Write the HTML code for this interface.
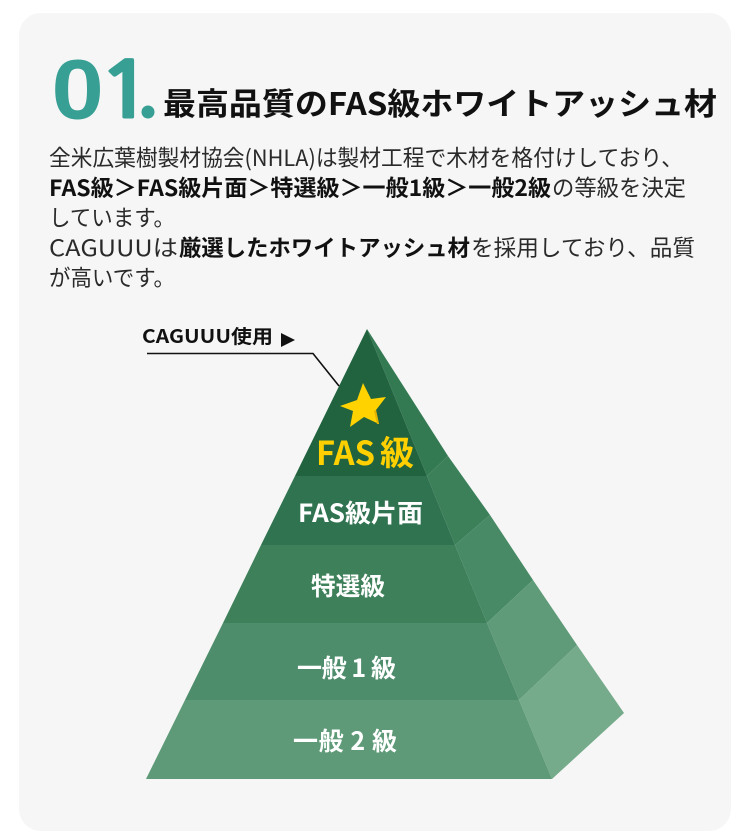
<!DOCTYPE html>
<html lang="ja"><head><meta charset="utf-8"><style>
html,body{margin:0;padding:0;background:#fff;width:750px;height:838px;overflow:hidden}
svg{display:block}
text{font-family:"Noto Sans CJK JP","Liberation Sans",sans-serif}
.n{font-family:"Liberation Sans",sans-serif;font-size:84px;font-weight:700;fill:#379f94}
.b{font-size:22.5px;fill:#2a2a2a;font-weight:400}
.s{font-weight:700;fill:#111}
.l{font-weight:700;fill:#fff;text-anchor:start}
</style></head><body>
<svg width="750" height="838" viewBox="0 0 750 838" xmlns="http://www.w3.org/2000/svg">
<rect x="19" y="13" width="712" height="818" rx="22" fill="#f6f6f6"/>
<text class="n" transform="translate(51.5 118.5) scale(1.12 1)" x="0" y="0">0</text>
<text class="n" style="font-family:NanumGothic,'Liberation Sans',sans-serif;font-size:78px" transform="translate(96.5 118) scale(1.25 1)" stroke="#379f94" stroke-width="1" x="0" y="0">1</text>
<circle cx="148" cy="112" r="6.5" fill="#379f94"/>
<text x="163" y="115" font-size="31" font-weight="700" fill="#111" textLength="554" lengthAdjust="spacingAndGlyphs">最高品質のFAS級ホワイトアッシュ材</text>

<text class="b" x="49" y="166" textLength="634" lengthAdjust="spacingAndGlyphs">全米広葉樹製材協会(NHLA)は製材工程で木材を格付けしており、</text>
<text class="b s" x="49" y="196" textLength="502" lengthAdjust="spacingAndGlyphs">FAS級＞FAS級片面＞特選級＞一般1級＞一般2級</text>
<text class="b" x="552" y="196" textLength="134" lengthAdjust="spacingAndGlyphs">の等級を決定</text>
<text class="b" x="49" y="226" textLength="126" lengthAdjust="spacingAndGlyphs">しています。</text>
<text class="b" x="49" y="256" textLength="129" lengthAdjust="spacingAndGlyphs">CAGUUUは</text>
<text class="b s" x="179" y="256" textLength="291" lengthAdjust="spacingAndGlyphs">厳選したホワイトアッシュ材</text>
<text class="b" x="471" y="256" textLength="224" lengthAdjust="spacingAndGlyphs">を採用しており、品質</text>
<text class="b" x="49" y="286" textLength="126" lengthAdjust="spacingAndGlyphs">が高いです。</text>

<!-- side faces -->
<polygon points="367,329 448,456 427,476" fill="#337a53"/>
<polygon points="448,456 490,515 455,545 427,476" fill="#3b8059"/>
<polygon points="490,515 533,580 487,623 455,545" fill="#478a65"/>
<polygon points="533,580 577,645 519,700 487,623" fill="#5f9b79"/>
<polygon points="577,645 624,713 552,779 519,700" fill="#75ab8b"/>
<!-- front faces -->
<polygon points="367,329 427,476 295,476" fill="#21633f"/>
<polygon points="295,476 427,476 455,545 261,545" fill="#307350"/>
<polygon points="261,545 455,545 487,623 223,623" fill="#3d8059"/>
<polygon points="223,623 487,623 519,700 185,700" fill="#4e8d6b"/>
<polygon points="185,700 519,700 552,779 146,779" fill="#5e9a78"/>

<polyline points="147,353.5 313,353.5 339,386" fill="none" stroke="#111" stroke-width="1.6"/>
<text x="142" y="343" font-size="19" font-weight="700" fill="#111" textLength="131" lengthAdjust="spacingAndGlyphs">CAGUUU使用</text>
<polygon points="281,333 295,340 281,347" fill="#111"/>

<polygon points="363,383 371,399 386,397 376,410 379,424 364,417 350,427 353,411 340,406 357,400" fill="#ffd200"/>
<polygon points="376,410 379,424 377,424 374,411" fill="#e2b400"/>

<text class="l" x="316" y="465" font-size="33" style="fill:#ffd000" textLength="59" lengthAdjust="spacingAndGlyphs">FAS</text>
<text class="l" x="380" y="465" font-size="34" style="fill:#ffd000">級</text>
<text class="l" x="298" y="522" font-size="25" textLength="125" lengthAdjust="spacingAndGlyphs">FAS級片面</text>
<text class="l" x="311" y="595" font-size="25" textLength="74" lengthAdjust="spacingAndGlyphs">特選級</text>
<text class="l" x="297" y="677" font-size="25" textLength="99" lengthAdjust="spacing">一般 1 級</text>
<text class="l" x="293" y="750" font-size="25" textLength="104" lengthAdjust="spacing">一般 2 級</text>
</svg>
</body></html>
